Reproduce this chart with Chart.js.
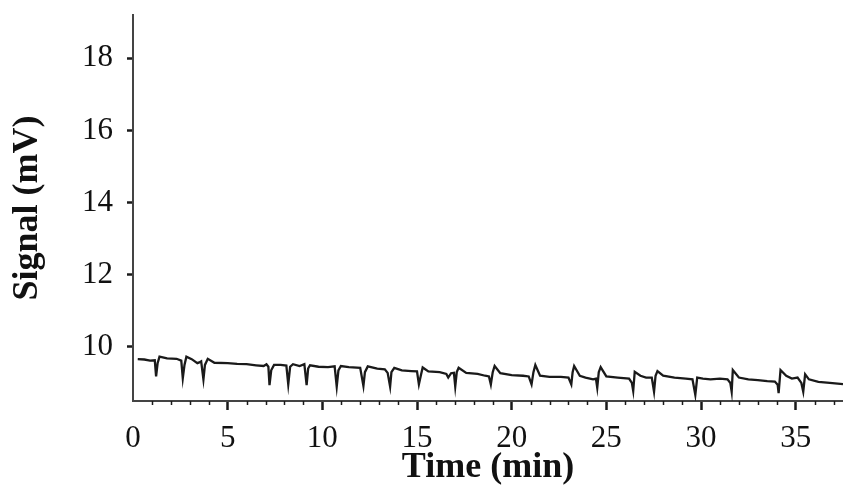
<!DOCTYPE html>
<html>
<head>
<meta charset="utf-8">
<script src="https://cdn.jsdelivr.net/npm/chart.js@4/dist/chart.umd.min.js"></script>
<style>
  html, body { margin: 0; padding: 0; background: #fff; }
  #wrap { width: 843px; height: 499px; }
</style>
</head>
<body>
<div id="wrap"><canvas id="signal-chart" width="843" height="499"></canvas></div>
<script>
// detector trace: time in min, signal in mV
const timeMin = [
  0.25, 0.6, 0.9, 1.15, 1.22, 1.3, 1.4, 1.8, 2.3, 2.55, 2.63, 2.72, 2.82, 3.1, 3.4, 3.5, 3.6, 3.72, 3.8, 3.95,
  4.3, 5.0, 5.5, 6.0, 6.5, 6.9, 7.05, 7.15, 7.21, 7.3, 7.45, 7.8, 8.1, 8.2, 8.3, 8.45, 8.8, 9.05, 9.17, 9.25,
  9.35, 9.8, 10.3, 10.65, 10.76, 10.85, 10.98, 11.4, 12.0, 12.17, 12.25, 12.4, 12.9, 13.3, 13.45, 13.58, 13.65, 13.8, 14.2, 14.7,
  15.0, 15.1, 15.2, 15.3, 15.6, 16.2, 16.55, 16.65, 16.8, 16.95, 17.02, 17.1, 17.2, 17.6, 18.2, 18.6, 18.8, 18.9, 19.0, 19.1,
  19.4, 20.0, 20.6, 20.9, 21.05, 21.15, 21.25, 21.5, 22.0, 22.6, 23.0, 23.15, 23.22, 23.3, 23.6, 23.9, 24.3, 24.45, 24.52, 24.6,
  24.7, 25.0, 25.6, 26.2, 26.35, 26.42, 26.5, 26.8, 27.1, 27.4, 27.52, 27.6, 27.7, 28.0, 28.6, 29.2, 29.55, 29.7, 29.8, 30.1,
  30.5, 31.0, 31.4, 31.55, 31.62, 31.68, 32.0, 32.5, 33.0, 33.5, 33.9, 34.05, 34.1, 34.2, 34.5, 34.8, 35.1, 35.3, 35.4, 35.5,
  35.7, 36.2, 36.8, 37.5
];
const signalMv = [
  9.66, 9.65, 9.62, 9.63, 9.18, 9.55, 9.73, 9.68, 9.67, 9.62, 9.13, 9.50, 9.73, 9.66, 9.55, 9.57, 9.60, 9.10, 9.50, 9.67,
  9.56, 9.55, 9.53, 9.52, 9.49, 9.47, 9.52, 9.45, 8.94, 9.35, 9.50, 9.50, 9.48, 8.96, 9.45, 9.52, 9.47, 9.52, 8.94, 9.40,
  9.49, 9.45, 9.44, 9.46, 8.90, 9.35, 9.47, 9.44, 9.42, 8.92, 9.30, 9.46, 9.40, 9.38, 9.28, 8.90, 9.30, 9.42, 9.35, 9.33,
  9.32, 8.96, 9.20, 9.43, 9.32, 9.30, 9.25, 9.15, 9.27, 9.28, 8.90, 9.30, 9.42, 9.28, 9.25, 9.20, 9.18, 8.96, 9.30, 9.47,
  9.27, 9.22, 9.20, 9.18, 8.96, 9.30, 9.50, 9.20, 9.17, 9.17, 9.15, 8.96, 9.30, 9.47, 9.20, 9.15, 9.10, 9.12, 8.87, 9.30,
  9.44, 9.18, 9.15, 9.12, 9.00, 8.78, 9.31, 9.20, 9.15, 9.15, 8.76, 9.20, 9.33, 9.20, 9.15, 9.12, 9.10, 8.67, 9.15, 9.12,
  9.10, 9.12, 9.10, 9.00, 8.76, 9.36, 9.15, 9.10, 9.08, 9.05, 9.04, 8.95, 8.72, 9.36, 9.20, 9.12, 9.15, 9.00, 8.76, 9.24,
  9.10, 9.03, 9.00, 8.97
];
const xTickValues = [0, 5, 10, 15, 20, 25, 30, 35];
const yTickValues = [10, 12, 14, 16, 18];

const serif = "'Liberation Serif', 'Times New Roman', serif";
const ink = '#1a1a1a';

const points = timeMin.map((t, i) => ({ x: t, y: signalMv[i] }));

// small ticks every minute between the labelled ones
const minorTicks = {
  id: 'minorTicks',
  afterDraw(chart) {
    const x = chart.scales.x;
    const ctx = chart.ctx;
    const bottom = chart.chartArea.bottom;
    ctx.save();
    ctx.strokeStyle = ink;
    ctx.lineWidth = 1.5;
    for (let m = 1; m <= Math.floor(x.max); m++) {
      if (m % 5 === 0) continue;
      const px = Math.round(x.getPixelForValue(m)) + 0.5;
      ctx.beginPath();
      ctx.moveTo(px, bottom);
      ctx.lineTo(px, bottom + 4);
      ctx.stroke();
    }
    ctx.restore();
  }
};

new Chart(document.getElementById('signal-chart'), {
  type: 'line',
  data: {
    datasets: [{
      label: 'Signal',
      data: points,
      borderColor: ink,
      borderWidth: 2.3,
      pointRadius: 0,
      tension: 0,
      fill: false
    }]
  },
  options: {
    responsive: false,
    animation: false,
    layout: { padding: { top: 15, right: 0, left: 2, bottom: 0 } },
    plugins: {
      legend: { display: false },
      tooltip: { enabled: false }
    },
    scales: {
      x: {
        type: 'linear',
        min: 0,
        max: 37.5,
        afterBuildTicks: s => { s.ticks = xTickValues.map(v => ({ value: v })); },
        afterFit: s => { s.height = 98; s.paddingLeft = 0; s.paddingRight = 0; },
        border: { display: true, color: '#444', width: 2 },
        grid: {
          drawOnChartArea: false,
          drawTicks: true,
          tickLength: 9,
          tickWidth: 2.5,
          tickColor: c => (c.tick && c.tick.value === 0 ? 'rgba(0,0,0,0)' : ink)
        },
        ticks: {
          color: '#111',
          padding: 10,
          maxRotation: 0,
          font: { family: serif, size: 31 }
        },
        title: {
          display: true,
          text: 'Time (min)',
          color: '#111',
          padding: { top: 0, bottom: 10 },
          font: { family: serif, size: 36, weight: 'bold' }
        }
      },
      y: {
        min: 8.5,
        max: 19.2,
        afterBuildTicks: s => { s.ticks = yTickValues.map(v => ({ value: v })); },
        afterFit: s => { s.width = 131; s.paddingTop = 0; s.paddingBottom = 0; },
        border: { display: true, color: '#444', width: 2 },
        grid: {
          drawOnChartArea: false,
          drawTicks: true,
          tickLength: 6,
          tickWidth: 2.5,
          tickColor: ink
        },
        ticks: {
          color: '#111',
          padding: 14,
          font: { family: serif, size: 31 }
        },
        title: {
          display: true,
          text: 'Signal (mV)',
          color: '#111',
          padding: { bottom: 0 },
          font: { family: serif, size: 36, weight: 'bold' }
        }
      }
    }
  },
  plugins: [minorTicks]
});
</script>
</body>
</html>
